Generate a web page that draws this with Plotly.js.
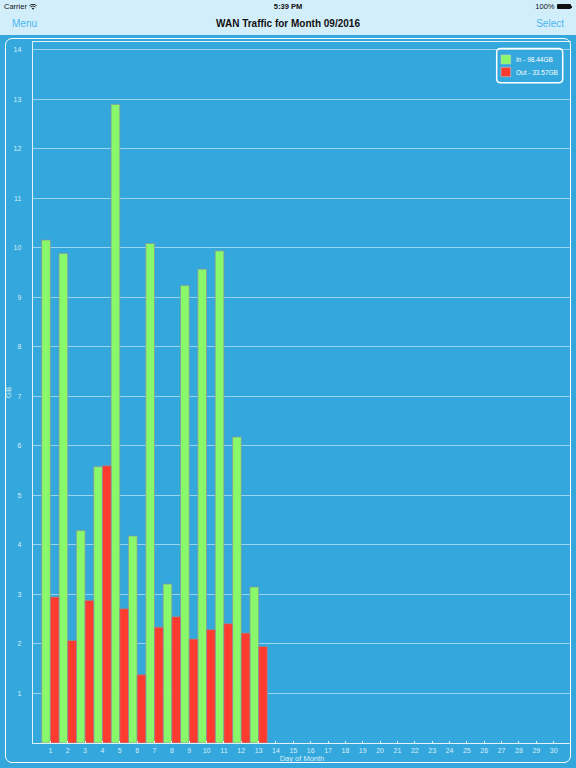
<!DOCTYPE html>
<html>
<head>
<meta charset="utf-8">
<script src="https://cdn.plot.ly/plotly-3.0.1.min.js"></script>
<style>
  html, body { margin: 0; padding: 0; width: 576px; height: 768px; overflow: hidden; background: #34a8dc; font-family: "Liberation Sans", Arial, sans-serif; }
  #header { position: absolute; left: 0; top: 0; width: 576px; height: 35px; background: #d3eefb; }
  .sb { position: absolute; top: 2px; font-size: 7.5px; color: #111; }
  #carrier { left: 4px; }
  #time { left: 0; width: 576px; text-align: center; font-weight: bold; }
  #batt { right: 4px; display: flex; align-items: center; }
  #battbody { display: inline-block; width: 14px; height: 5px; background: #111; border-radius: 1px; margin-left: 2px; }
  #battnub { display: inline-block; width: 1px; height: 2px; background: #111; margin-left: 0.5px; }
  .nav { position: absolute; top: 18px; font-size: 10px; }
  #menu { left: 12px; color: #4ab6ee; }
  #title { left: 0; width: 576px; text-align: center; font-weight: bold; color: #111; }
  #select { right: 12px; color: #4ab6ee; }
  #chart { position: absolute; left: 0; top: 35px; width: 576px; height: 733px; }
  #frame { position: absolute; left: 4.5px; top: 38px; width: 564px; height: 723px; border: 1.5px solid #ffffff; border-radius: 7px; pointer-events: none; }
</style>
</head>
<body>
<div id="header">
  <div class="sb" id="carrier">Carrier <svg width="8" height="6" viewBox="0 0 16 12" style="vertical-align:middle"><path d="M8 11.5 L5.5 8.5 A4 4 0 0 1 10.5 8.5 Z" fill="#111"/><path d="M3.2 6 A7 7 0 0 1 12.8 6" stroke="#111" stroke-width="1.8" fill="none"/><path d="M0.8 3.4 A10.5 10.5 0 0 1 15.2 3.4" stroke="#111" stroke-width="1.8" fill="none"/></svg></div>
  <div class="sb" id="time">5:39 PM</div>
  <div class="sb" id="batt">100%<span id="battbody"></span><span id="battnub"></span></div>
  <div class="nav" id="menu">Menu</div>
  <div class="nav" id="title">WAN Traffic for Month 09/2016</div>
  <div class="nav" id="select">Select</div>
</div>
<div id="chart"></div>
<div id="frame"></div>
<script>
// Data
var days = [1, 2, 3, 4, 5, 6, 7, 8, 9, 10, 11, 12, 13];
var inGB = [10.16, 9.89, 4.29, 5.58, 12.90, 4.18, 10.09, 3.21, 9.24, 9.57, 9.94, 6.18, 3.15];
var outGB = [2.95, 2.07, 2.88, 5.60, 2.71, 1.38, 2.34, 2.55, 2.10, 2.29, 2.41, 2.22, 1.95];
var seriesNames = ["In - 98.44GB", "Out - 33.57GB"];
var seriesColors = ["#8af86b", "#ff3b30"];
var xTickVals = [];
for (var d = 1; d <= 30; d++) xTickVals.push(d);
var yTickVals = [1, 2, 3, 4, 5, 6, 7, 8, 9, 10, 11, 12, 13, 14];

var labelColor = "#d9eefa";
var barLine = { color: "rgba(140,150,150,0.9)", width: 0.8 };
var traces = [
  { type: "bar", x: days, y: inGB, name: seriesNames[0], marker: { color: seriesColors[0], line: barLine } },
  { type: "bar", x: days, y: outGB, name: seriesNames[1], marker: { color: seriesColors[1], line: barLine } }
];

// Legend box (rounded) drawn in paper coordinates, top-right of the plot
var lx0 = 0.8619, lx1 = 0.9846, ly0 = 0.9420, ly1 = 0.9906, rx = 0.0075, ry = 0.0057;
var legendPath = "M" + (lx0 + rx) + "," + ly1 + " L" + (lx1 - rx) + "," + ly1 +
  " Q" + lx1 + "," + ly1 + " " + lx1 + "," + (ly1 - ry) +
  " L" + lx1 + "," + (ly0 + ry) + " Q" + lx1 + "," + ly0 + " " + (lx1 - rx) + "," + ly0 +
  " L" + (lx0 + rx) + "," + ly0 + " Q" + lx0 + "," + ly0 + " " + lx0 + "," + (ly0 + ry) +
  " L" + lx0 + "," + (ly1 - ry) + " Q" + lx0 + "," + ly1 + " " + (lx0 + rx) + "," + ly1 + " Z";
var swatchRows = [[0.9686, 0.9815], [0.9505, 0.9639]];
var textRows = [0.9752, 0.9572];
var shapes = [{ type: "path", xref: "paper", yref: "paper", path: legendPath, line: { color: "#ffffff", width: 1.5 }, fillcolor: "rgba(0,0,0,0)" }];
var annotations = [];
for (var i = 0; i < seriesNames.length; i++) {
  shapes.push({ type: "rect", xref: "paper", yref: "paper", x0: 0.8699, x1: 0.8879, y0: swatchRows[i][0], y1: swatchRows[i][1],
    fillcolor: seriesColors[i], line: { color: "rgba(200,210,210,0.9)", width: 0.6 } });
  annotations.push({ xref: "paper", yref: "paper", x: 0.894, y: textRows[i], xanchor: "left", yanchor: "middle",
    text: seriesNames[i], showarrow: false, font: { size: 6.5, color: "#ffffff" } });
}

var layout = {
  width: 576, height: 733,
  margin: { l: 33, r: 5, t: 7, b: 25, pad: 0 },
  paper_bgcolor: "#34a8dc",
  plot_bgcolor: "#34a8dc",
  barmode: "group", bargap: 0, bargroupgap: 0,
  font: { family: "Liberation Sans, Arial, sans-serif", size: 7, color: labelColor },
  showlegend: false,
  shapes: shapes,
  annotations: annotations,
  xaxis: {
    range: [0, 31], tickmode: "array", tickvals: xTickVals,
    showgrid: false, zeroline: false,
    showline: true, linecolor: "rgba(255,255,255,0.85)", linewidth: 1.2, mirror: true,
    ticks: "inside", ticklen: 2, tickcolor: "rgba(255,255,255,0.85)", tickwidth: 1,
    tickfont: { size: 7, color: labelColor },
    title: { text: "Day of Month", font: { size: 7.5, color: labelColor }, standoff: 1 },
    fixedrange: true
  },
  yaxis: {
    range: [0, 14.16], tickmode: "array", tickvals: yTickVals,
    showgrid: true, gridcolor: "rgba(255,255,255,0.5)", gridwidth: 1,
    zeroline: false,
    showline: true, linecolor: "rgba(255,255,255,0.85)", linewidth: 1.2,
    ticks: "", ticklabelstandoff: 9,
    tickfont: { size: 7, color: labelColor },
    title: { text: "GB", font: { size: 8, color: labelColor }, standoff: 0 },
    fixedrange: true
  }
};

Plotly.newPlot("chart", traces, layout, { displayModeBar: false, staticPlot: true });
</script>
</body>
</html>
